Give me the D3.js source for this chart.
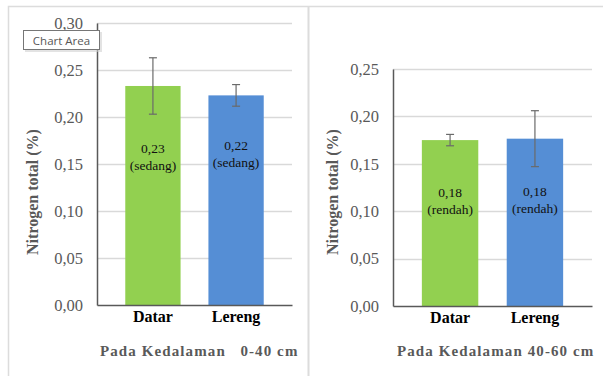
<!DOCTYPE html>
<html>
<head>
<meta charset="utf-8">
<script src="https://cdn.jsdelivr.net/npm/d3@7"></script>
<style>
  body { margin: 0; background: #fff; }
  svg { display: block; }
</style>
</head>
<body>
<svg width="603" height="376"></svg>
<script>
// Data
var categories = ['Datar', 'Lereng'];

var values0_40 = [0.233, 0.223];
var errors0_40 = [0.030, 0.0115];
var valueLabels0_40 = ['0,23', '0,22'];
var classLabels0_40 = ['(sedang)', '(sedang)'];
var ticks0_40 = [0, 0.05, 0.10, 0.15, 0.20, 0.25, 0.30];

var values40_60 = [0.175, 0.1765];
var errors40_60 = [0.006, 0.0295];
var valueLabels40_60 = ['0,18', '0,18'];
var classLabels40_60 = ['(rendah)', '(rendah)'];
var ticks40_60 = [0, 0.05, 0.10, 0.15, 0.20, 0.25];

var barColors = ['#92d050', '#558ed5'];
var grey = '#595959';
var serif = '"Liberation Serif", "Times New Roman", Times, serif';

var svg = d3.select('svg');

// Outer frames of the two chart areas
svg.append('path')
    .attr('d', 'M8.5,376V6.5H603')
    .attr('fill', 'none')
    .attr('stroke', '#dcdcdc')
    .attr('stroke-width', 1.5);
svg.append('line')
    .attr('x1', 308.5).attr('x2', 308.5)
    .attr('y1', 6).attr('y2', 376)
    .attr('stroke', '#dcdcdc')
    .attr('stroke-width', 2);

var fmt = function(d) { return d3.format('.2f')(d).replace('.', ','); };

function drawPanel(p) {
    var g = svg.append('g');

    var yScale = d3.scaleLinear()
        .domain([0, p.yMax])
        .range([p.bottom, p.top]);

    var xScale = d3.scaleBand()
        .domain(categories)
        .range([p.left, p.right])
        .paddingInner(0.335)
        .paddingOuter(0.34);

    // Gridlines
    g.selectAll('.grid')
        .data(p.ticks.slice(1))
        .enter().append('line')
        .attr('x1', p.left).attr('x2', p.right)
        .attr('y1', function(d) { return Math.round(yScale(d)) + 0.5; })
        .attr('y2', function(d) { return Math.round(yScale(d)) + 0.5; })
        .attr('stroke', '#d9d9d9')
        .attr('stroke-width', 1.5);

    // Bars
    g.selectAll('.bar')
        .data(p.values)
        .enter().append('rect')
        .attr('x', function(d, i) { return xScale(categories[i]); })
        .attr('width', xScale.bandwidth())
        .attr('y', function(d) { return yScale(d); })
        .attr('height', function(d) { return p.bottom - yScale(d); })
        .attr('fill', function(d, i) { return barColors[i]; });

    // Y axis
    var yAxis = d3.axisLeft(yScale)
        .tickValues(p.ticks)
        .tickFormat(fmt)
        .tickSize(0)
        .tickPadding(14);
    var yAxisG = g.append('g')
        .attr('transform', 'translate(' + [p.left, 0] + ')')
        .call(yAxis)
        .attr('font-family', null)
        .attr('font-size', null);
    yAxisG.select('.domain')
        .attr('stroke', grey)
        .attr('stroke-width', 1.5);
    yAxisG.selectAll('text')
        .style('font-family', serif)
        .style('font-size', '16.5px')
        .attr('fill', grey);

    // X axis
    var xAxis = d3.axisBottom(xScale).tickSize(0).tickPadding(6);
    var xAxisG = g.append('g')
        .attr('transform', 'translate(' + [0, p.bottom] + ')')
        .call(xAxis)
        .attr('font-family', null)
        .attr('font-size', null);
    xAxisG.select('.domain')
        .attr('stroke', grey)
        .attr('stroke-width', 1.5);
    xAxisG.selectAll('text')
        .style('font-family', serif)
        .style('font-size', '16px')
        .style('font-weight', 'bold')
        .attr('fill', '#000');

    // Error bars
    var eb = g.selectAll('.err')
        .data(p.values)
        .enter().append('g')
        .attr('stroke', '#6a6a6a')
        .attr('stroke-width', 1.2);
    eb.append('line')
        .attr('x1', function(d, i) { return xScale(categories[i]) + xScale.bandwidth() / 2; })
        .attr('x2', function(d, i) { return xScale(categories[i]) + xScale.bandwidth() / 2; })
        .attr('y1', function(d, i) { return yScale(d + p.errors[i]); })
        .attr('y2', function(d, i) { return yScale(d - p.errors[i]); });
    [1, -1].forEach(function(sign) {
        eb.append('line')
            .attr('x1', function(d, i) { return xScale(categories[i]) + xScale.bandwidth() / 2 - 4; })
            .attr('x2', function(d, i) { return xScale(categories[i]) + xScale.bandwidth() / 2 + 4; })
            .attr('y1', function(d, i) { return yScale(d + sign * p.errors[i]); })
            .attr('y2', function(d, i) { return yScale(d + sign * p.errors[i]); });
    });

    // Labels inside the bars
    var lab = g.selectAll('.lab')
        .data(p.values)
        .enter().append('text')
        .style('font-family', serif)
        .style('font-size', '13.5px')
        .attr('fill', '#111')
        .attr('text-anchor', 'middle');
    lab.append('tspan')
        .attr('x', function(d, i) { return xScale(categories[i]) + xScale.bandwidth() / 2; })
        .attr('y', function(d, i) { return p.labelY[i]; })
        .text(function(d, i) { return p.valueLabels[i]; });
    lab.append('tspan')
        .attr('x', function(d, i) { return xScale(categories[i]) + xScale.bandwidth() / 2; })
        .attr('dy', 17)
        .text(function(d, i) { return p.classLabels[i]; });

    // Y axis title
    g.append('text')
        .attr('transform', 'translate(' + [p.titleX, 192] + ') rotate(-90)')
        .attr('text-anchor', 'middle')
        .style('font-family', serif)
        .style('font-size', '16px')
        .style('font-weight', 'bold')
        .attr('fill', grey)
        .text('Nitrogen total (%)');

    // Depth caption
    g.append('text')
        .attr('x', p.captionX)
        .attr('y', 356)
        .style('font-family', serif)
        .style('font-size', '15px')
        .style('font-weight', 'bold')
        .style('letter-spacing', '1.1px')
        .style('white-space', 'pre')
        .attr('fill', grey)
        .text(p.caption);
}

drawPanel({
    left: 97, right: 292, top: 23, bottom: 305, yMax: 0.30,
    ticks: ticks0_40, values: values0_40, errors: errors0_40,
    valueLabels: valueLabels0_40, classLabels: classLabels0_40,
    labelY: [153, 150], titleX: 38, captionX: 100,
    caption: 'Pada Kedalaman   0-40 cm'
});

drawPanel({
    left: 393, right: 592, top: 69, bottom: 306, yMax: 0.25,
    ticks: ticks40_60, values: values40_60, errors: errors40_60,
    valueLabels: valueLabels40_60, classLabels: classLabels40_60,
    labelY: [197, 196], titleX: 338, captionX: 397,
    caption: 'Pada Kedalaman 40-60 cm'
});

// "Chart Area" tooltip
var tip = svg.append('g');
tip.append('rect')
    .attr('x', 25).attr('y', 32).attr('width', 77).attr('height', 20)
    .attr('fill', '#d0d0d0').attr('opacity', 0.6);
tip.append('rect')
    .attr('x', 23.5).attr('y', 30.5).attr('width', 76).attr('height', 19)
    .attr('fill', '#fff').attr('stroke', '#767676');
tip.append('text')
    .attr('x', 61.5).attr('y', 44.5)
    .attr('text-anchor', 'middle')
    .style('font-family', '"Open Sans", "Noto Sans", sans-serif')
    .style('font-size', '11.5px')
    .attr('fill', '#575757')
    .text('Chart Area');
</script>
</body>
</html>
